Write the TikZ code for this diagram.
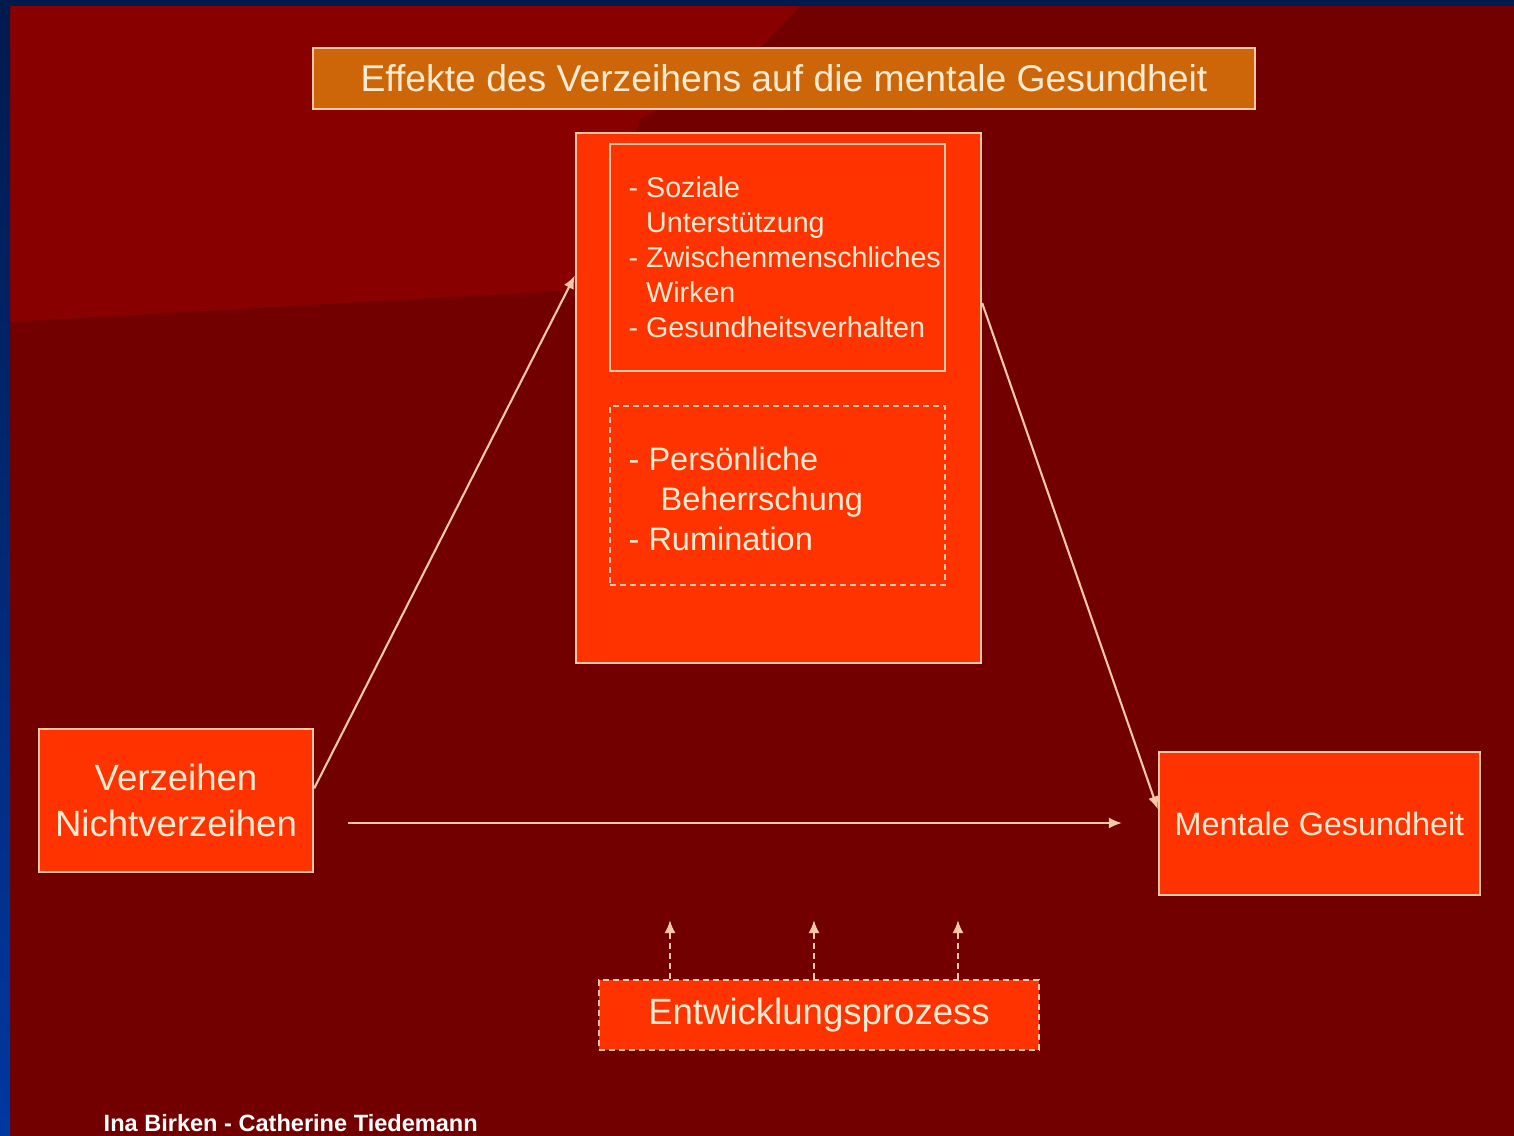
\documentclass[tikz,border=0pt]{standalone}
\usepackage{fontspec}
\setmainfont{Liberation Sans}
\usetikzlibrary{arrows.meta}
\definecolor{bgtop}{HTML}{880000}
\definecolor{bglow}{HTML}{720000}
\definecolor{navy}{HTML}{001A4D}
\definecolor{blueside}{HTML}{0038A0}
\definecolor{boxred}{HTML}{FF3300}
\definecolor{boxline}{HTML}{F5C8A8}
\definecolor{titleorange}{HTML}{CC6608}
\definecolor{cream}{HTML}{FFEBD2}
\tikzset{
  box/.style={draw=boxline, fill=boxred, text=cream, shape=rectangle, inner sep=0pt, line width=0.6pt},
  dashbox/.style={box, dash pattern=on 0.6mm off 0.4mm},
  listtext/.style={text=cream, align=left, inner sep=0pt},
  arr/.style={draw=boxline, line width=0.6pt, -{Latex[length=1.3mm,width=1.1mm]}},
}
\begin{document}
\begin{tikzpicture}[x=0.01cm, y=-0.01cm]
\useasboundingbox (0,0) rectangle (1514,1136);
% background
\fill[bglow] (0,0) rectangle (1514,1136);
\fill[bgtop] (10,6) -- (800,6) -- (760,48) -- (640,120) -- (576,290) -- (10,322) -- cycle;
\shade[top color=navy, bottom color=blueside] (0,0) rectangle (10,1136);
\fill[navy] (0,0) rectangle (1514,6);
% boxes
\draw (784,78.5) node[box, fill=titleorange, minimum width=9.42cm, minimum height=0.61cm, font=\fontsize{10.6}{12}\selectfont] (title) {Effekte des Verzeihens auf die mentale Gesundheit};
\draw (778.5,398) node[box, minimum width=4.05cm, minimum height=5.3cm] (mid) {};
\draw (777.5,257.5) node[box, minimum width=3.35cm, minimum height=2.27cm] (faktA) {};
\draw (777.5,495.5) node[dashbox, minimum width=3.35cm, minimum height=1.79cm] (faktB) {};
\draw (628,176) node[listtext, anchor=north west, font=\fontsize{8.15}{9.96}\selectfont] (listA) {- Soziale\\\phantom{- }Unterstützung\\- Zwischenmenschliches\\\phantom{- }Wirken\\- Gesundheitsverhalten};
\draw (628,446) node[listtext, anchor=north west, font=\fontsize{9.24}{11.38}\selectfont] (listB) {- Persönliche\\\hspace{0.32cm}Beherrschung\\- Rumination};
\draw (176,800.5) node[box, align=center, minimum width=2.74cm, minimum height=1.43cm, font=\fontsize{10.4}{13.1}\selectfont] (verz) {Verzeihen\\Nichtverzeihen};
\draw (1319.5,823.5) node[box, minimum width=3.21cm, minimum height=1.43cm, font=\fontsize{9.2}{11}\selectfont] (ment) {Mentale Gesundheit};
\draw (819,1015) node[dashbox, minimum width=4.4cm, minimum height=0.7cm, font=\fontsize{10.4}{12}\selectfont] (entw) {Entwicklungsprozess};
\draw (103,1131) node[anchor=base west, inner sep=0pt, text=white, font=\bfseries\fontsize{6.7}{8}\selectfont] (credit) {Ina Birken - Catherine Tiedemann};
% arrows
\draw[arr] (verz.5.6) -- (mid.149.4);
\draw[arr] (mid.25.1) -- (ment.175.9);
\coordinate (hstart) at (348,823);
\coordinate (hend) at (1122,823);
\draw[arr] (hstart) -- (hend);
\foreach \x [count=\i] in {670,814,958} {
  \coordinate (up\i) at (\x,920);
  \draw[arr, dash pattern=on 0.6mm off 0.4mm] (entw.north -| up\i) -- (up\i);
}
\end{tikzpicture}
\end{document}
